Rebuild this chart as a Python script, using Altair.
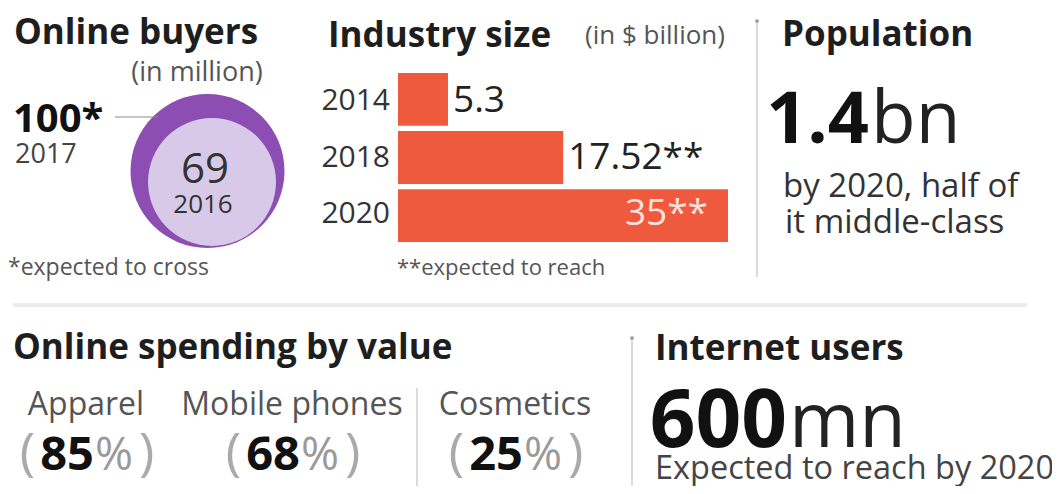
import math
import altair as alt
import pandas as pd

# ---------------- data ----------------
buyers_years = ["2017", "2016"]
buyers_values = [100, 69]            # million
buyers_labels = ["100*", "69"]

industry_years = ["2014", "2018", "2020"]
industry_values = [5.3, 17.52, 35.0]   # $ billion
industry_labels = ["5.3", "17.52**", "35**"]

spend_categories = ["Apparel", "Mobile phones", "Cosmetics"]
spend_shares = [85, 68, 25]          # percent

population_value = "1.4"
population_unit = "bn"
population_notes = ["by 2020, half of", "it middle-class"]

internet_value = "600"
internet_unit = "mn"
internet_note = "Expected to reach by 2020"

titles = ["Online buyers", "Industry size", "Population",
          "Online spending by value", "Internet users"]
units = ["(in million)", "(in $ billion)"]
footnotes = ["*expected to cross", "**expected to reach"]

# ---------------- layout / style ----------------
FONT = "Open Sans"
W, H = 1044, 478
XS = alt.Scale(domain=[8, 8 + W], range=[0, W], nice=False, zero=False)
YS = alt.Scale(domain=[8, 8 + H], range=[0, H], nice=False, zero=False)
TITLE_C = "#1e1e1e"
DARK = "#111111"
BODY = "#333333"
GREY = "#555555"
BAR = "#ef5a3e"
PURPLE = "#8d4eb3"
LAVENDER = "#d9c9e9"
LINE = "#cfcfcf"
OUTER_DIAM = 154   # diameter (px) of the circle for the largest value


def rows(items):
    return pd.DataFrame([{"x": x, "y": y, "t": t} for x, y, t in items])


def ctext(items, **mk):
    mk.setdefault("baseline", "alphabetic")
    return alt.Chart(rows(items)).mark_text(font=FONT, **mk).encode(
        x=alt.X("x:Q", scale=XS, axis=None),
        y=alt.Y("y:Q", scale=YS, axis=None),
        text=alt.Text("t:N"),
    )


def crule(segments, **mk):
    df = pd.DataFrame([{"x": a, "x2": b, "y": c, "y2": d} for a, b, c, d in segments])
    return alt.Chart(df).mark_rule(**mk).encode(
        x=alt.X("x:Q", scale=XS, axis=None), x2="x2:Q",
        y=alt.Y("y:Q", scale=YS, axis=None), y2="y2:Q",
    )


layers = []

# dividers
layers.append(crule([(13, 1027, 305, 305)], color="#ececec", strokeWidth=4))
layers.append(crule([(757, 757, 20, 277), (632, 632, 337, 486), (417, 417, 388, 486)],
                    color=LINE, strokeWidth=1.5))
dots = pd.DataFrame({"x": [757, 632], "y": [21, 338]})
layers.append(alt.Chart(dots).mark_circle(color="#999999", size=14, opacity=1).encode(
    x=alt.X("x:Q", scale=XS, axis=None), y=alt.Y("y:Q", scale=YS, axis=None)))

# titles
layers.append(ctext([(14, 44, titles[0]), (328, 47, titles[1]), (782, 46, titles[2]),
                     (13, 359, titles[3]), (655, 360, titles[4])],
                    fontSize=35, fontWeight="bold", color=TITLE_C, align="left"))
layers.append(ctext([(197, 81, units[0])], fontSize=27, color=GREY, align="center"))
layers.append(ctext([(655, 44, units[1])], fontSize=26, color=GREY, align="center"))
layers.append(ctext([(8, 275, footnotes[0])], fontSize=23, color=GREY, align="left"))
layers.append(ctext([(397, 275, footnotes[1])], fontSize=22, color=GREY, align="left"))

# ---- online buyers: nested circles (area ~ value) ----
buyer_centers = [(207.5, 171), (212, 182)]
bdf = pd.DataFrame({
    "year": buyers_years, "value": buyers_values,
    "cx": [c[0] for c in buyer_centers], "cy": [c[1] for c in buyer_centers],
})
layers.append(alt.Chart(bdf).mark_circle(opacity=1).encode(
    x=alt.X("cx:Q", scale=XS, axis=None),
    y=alt.Y("cy:Q", scale=YS, axis=None),
    size=alt.Size("value:Q", scale=alt.Scale(domain=[0, 100], range=[0, OUTER_DIAM ** 2]),
                  legend=None),
    color=alt.Color("year:N", scale=alt.Scale(domain=buyers_years, range=[PURPLE, LAVENDER]),
                    legend=None),
    order=alt.Order("value:Q", sort="descending"),
))
layers.append(crule([(115, 158, 117, 117)], color="#8a8a8a", strokeWidth=1))
layers.append(ctext([(13, 132, buyers_labels[0])], fontSize=40, fontWeight="bold",
                    color=DARK, align="left"))
layers.append(ctext([(15, 163, buyers_years[0])], fontSize=27, color="#444444", align="left"))
layers.append(ctext([(205, 183, buyers_labels[1])], fontSize=42, color=BODY, align="center"))
layers.append(ctext([(203, 213, buyers_years[1])], fontSize=26, color=BODY, align="center"))

# ---- industry size: horizontal bars ----
vmax = max(industry_values)
idf = pd.DataFrame({
    "year": industry_years, "value": industry_values, "label": industry_labels,
    "inside": [v == vmax for v in industry_values],
})
bar_x = alt.Scale(domain=[0, vmax], range=[390, 720], nice=False, zero=True)
bar_y = alt.Scale(domain=industry_years, range=[65, 234], paddingInner=0.09, paddingOuter=0)
ybar = alt.Y("year:N", scale=bar_y, axis=None)
base = alt.Chart(idf)
layers.append(base.mark_bar(color=BAR).encode(
    x=alt.X("value:Q", scale=bar_x, axis=None), y=ybar))
layers.append(base.transform_calculate(zero="0").mark_text(
    font=FONT, align="right", baseline="middle", dx=-8, fontSize=30, color=BODY).encode(
    x=alt.X("zero:Q", scale=bar_x, axis=None), y=ybar, text="year:N"))
layers.append(base.transform_filter("!datum.inside").mark_text(
    font=FONT, align="left", baseline="middle", dx=5, fontSize=37, color="#222222").encode(
    x=alt.X("value:Q", scale=bar_x, axis=None), y=ybar, text="label:N"))
layers.append(base.transform_filter("datum.inside").mark_text(
    font=FONT, align="right", baseline="middle", dx=-20, fontSize=37, color="#fde2dc").encode(
    x=alt.X("value:Q", scale=bar_x, axis=None), y=ybar, text="label:N"))

# ---- population ----
layers.append(ctext([(869, 143, population_value)], fontSize=72, fontWeight="bold",
                    color=DARK, align="right"))
layers.append(ctext([(871, 143, population_unit)], fontSize=73, color="#222222", align="left"))
layers.append(ctext([(783, 197, population_notes[0]), (785, 233, population_notes[1])],
                    fontSize=33, color=BODY, align="left"))

# ---- online spending by value ----
cat_cx = [86, 292, 515]
layers.append(ctext([(cx, 415, c) for cx, c in zip(cat_cx, spend_categories)],
                    fontSize=32, color=GREY, align="center"))
layers.append(ctext([(cx + 8, 470, str(v)) for cx, v in zip(cat_cx, spend_shares)],
                    fontSize=47, fontWeight="bold", color=DARK, align="right"))
layers.append(ctext([(cx + 9, 470, "%") for cx in cat_cx],
                    fontSize=46, color="#9a9a9a", align="left"))
layers.append(ctext([(cx - 51, 470, "(") for cx in cat_cx],
                    fontSize=52, color="#aaaaaa", align="right"))
layers.append(ctext([(cx + 53, 470, ")") for cx in cat_cx],
                    fontSize=52, color="#aaaaaa", align="left"))

# ---- internet users ----
layers.append(ctext([(787, 447, internet_value)], fontSize=80, fontWeight="bold",
                    color=DARK, align="right"))
layers.append(ctext([(789, 447, internet_unit)], fontSize=76, color="#222222", align="left"))
layers.append(ctext([(655, 479, internet_note)], fontSize=32.5, color="#444444", align="left"))

chart = alt.layer(*layers).resolve_scale(
    x="independent", y="independent", size="independent", color="independent"
).properties(
    width=W, height=H, padding=0, autosize=alt.AutoSizeParams(type="none"),
    background="white",
).configure_view(stroke=None)

chart.save("out.html", embed_options={"renderer": "svg", "actions": False})
